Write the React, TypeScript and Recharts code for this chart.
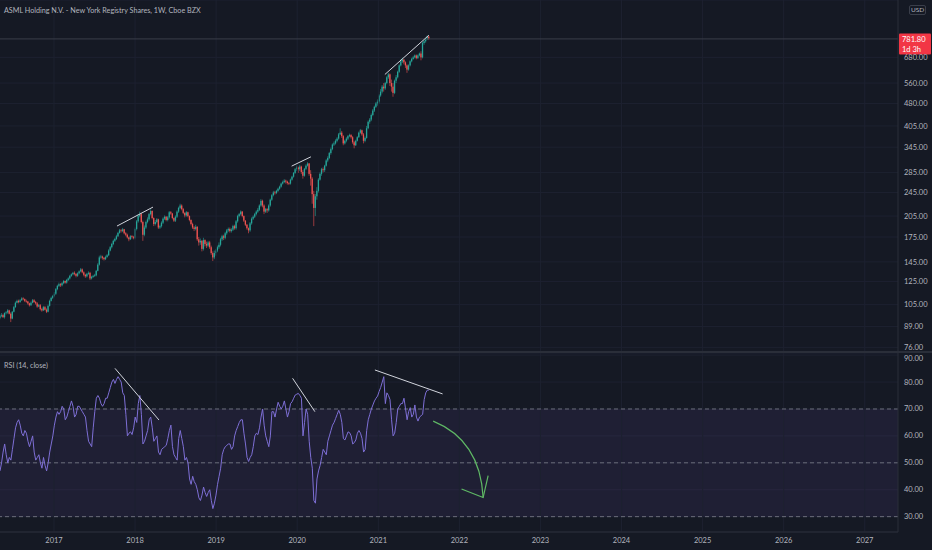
import React from 'react';
import {
  ComposedChart,
  Bar,
  Line,
  XAxis,
  YAxis,
  CartesianGrid,
  ReferenceLine,
  ReferenceArea,
} from 'recharts';

// weekly candles, first week starts early May 2016
const WEEK_START = 2016.334;
const WEEK_LEN = 7 / 365.25;

const OPENS = [
  // 2016
  95.0, 96.5, 97.0, 95.5, 98.5, 99.0, 100.5, 98.0, 94.5, 99.5, 103.0, 106.5, 108.0, 107.0, 108.5, 110.0, 109.5, 108.0,
  107.5, 106.0, 104.5, 106.5, 108.5, 107.0, 106.0, 103.5, 104.5, 101.5, 100.5, 103.0, 101.0, 99.5, 104.0, 108.0, 110.5,
  // 2017
  112.0, 114.0, 118.0, 121.0, 122.5, 121.5, 123.5, 125.5, 124.0, 126.5, 128.0, 130.5, 132.0, 133.5, 132.5, 130.5, 133.0,
  135.0, 137.0, 134.0, 131.5, 130.0, 132.5, 133.5, 128.0, 129.5, 130.5, 131.0, 135.5, 142.0, 150.0, 151.0, 149.5, 148.0,
  150.5, 152.5, 158.0, 162.0, 166.0, 170.0, 172.5, 176.0, 180.5, 184.0, 183.0, 185.5, 180.0, 178.0, 174.5, 172.0, 176.0, 175.0,
  // 2018
  174, 186, 197, 205, 208, 196, 178, 188, 196, 200, 208, 213, 202, 193, 196, 200, 188, 190, 195, 201, 204, 199, 203, 211,
  209, 202, 198, 204, 212, 218, 222, 216, 210, 206, 211, 205, 199, 193, 188, 186, 189, 172, 168, 170, 160, 171, 166, 164,
  168, 162, 155, 150,
  // 2019
  155, 158, 162, 165, 172, 176, 174, 180, 184, 186, 183, 185, 190, 187, 197, 205, 208, 212, 205, 198, 192, 187, 184, 194,
  201, 204, 208, 212, 215, 222, 230, 222, 212, 216, 214, 222, 232, 240, 245, 244, 248, 252, 256, 262, 265, 268, 266, 263,
  262, 270, 276, 284,
  // 2020
  292, 296, 292, 298, 286, 278, 293, 300, 305, 282, 272, 242, 218, 238, 248, 270, 282, 292, 290, 300, 312, 318, 330, 340,
  352, 355, 362, 368, 380, 385, 375, 355, 362, 368, 375, 378, 372, 358, 350, 362, 372, 385, 392, 380, 362, 370, 398, 418,
  425, 440, 455, 468,
  // 2021
  480, 487, 510, 525, 545, 538, 560, 585, 598, 560, 545, 520, 570, 585, 610, 640, 660, 668, 655, 640, 620, 640, 660, 672,
  680, 690, 676, 690, 700, 680, 758, 768, 780, 795,
];

const HIGHS = [
  97.5, 98.5, 98.0, 99.0, 100.0, 101.5, 101.0, 99.0, 100.0, 104.0, 107.5, 109.0, 109.0, 109.5, 111.0, 111.0, 110.0, 109.0,
  108.0, 106.5, 107.5, 109.5, 109.5, 108.0, 107.0, 105.5, 105.5, 102.5, 104.0, 104.0, 102.0, 105.0, 109.0, 111.5, 113.0,
  115.5, 119.0, 122.0, 124.0, 123.5, 124.5, 126.5, 126.0, 127.5, 129.0, 131.5, 133.0, 134.5, 135.0, 133.0, 134.0, 136.0,
  138.5, 138.0, 135.0, 132.5, 133.5, 135.0, 134.5, 130.5, 131.5, 132.5, 136.5, 143.5, 152.0, 153.0, 152.0, 150.5, 152.0,
  154.0, 159.5, 163.5, 167.5, 171.5, 174.0, 178.0, 182.0, 186.0, 186.0, 187.5, 186.0, 181.5, 179.5, 175.5, 177.5, 177.5, 176.5,
  188, 199, 208, 212, 210, 198, 191, 198, 203, 210, 216, 214, 203, 199, 202, 201, 192, 197, 203, 206, 205, 205, 213, 213,
  210, 203, 206, 214, 220, 225, 224, 218, 211, 213, 212, 206, 200, 195, 190, 192, 190, 175, 173, 171, 174, 172, 169, 170,
  170, 164, 157, 158,
  160, 164, 168, 174, 178, 178, 182, 186, 188, 188, 187, 192, 192, 199, 207, 210, 214, 213, 206, 199, 193, 188, 196, 203,
  206, 210, 214, 218, 224, 233, 232, 224, 218, 218, 224, 234, 242, 248, 248, 250, 254, 258, 264, 268, 271, 270, 268, 265,
  272, 278, 286, 295,
  300, 298, 302, 300, 290, 295, 303, 308, 306, 290, 275, 248, 242, 255, 273, 285, 295, 296, 302, 315, 322, 333, 344, 355,
  360, 366, 372, 384, 398, 390, 378, 365, 372, 378, 382, 381, 375, 362, 365, 375, 388, 396, 394, 384, 374, 405, 422, 430,
  445, 460, 472, 485,
  495, 515, 535, 552, 560, 565, 590, 605, 602, 575, 560, 575, 595, 615, 645, 670, 678, 672, 660, 645, 645, 665, 678, 688,
  695, 695, 695, 705, 712, 765, 775, 788, 802, 800,
];

const LOWS = [
  94.0, 95.5, 95.0, 94.5, 97.5, 98.0, 97.5, 92.0, 94.0, 99.0, 102.5, 106.0, 106.0, 106.5, 108.0, 108.5, 107.0, 106.5,
  105.0, 103.5, 104.0, 106.0, 106.5, 105.0, 102.5, 103.0, 100.5, 99.5, 100.0, 100.5, 98.5, 99.0, 103.5, 107.5, 109.5,
  111.0, 113.0, 117.0, 120.0, 120.0, 120.5, 122.5, 123.0, 123.0, 125.5, 127.0, 129.5, 131.0, 131.0, 129.0, 129.5, 132.0,
  134.0, 133.0, 130.0, 128.5, 129.0, 131.5, 126.5, 127.0, 128.5, 129.5, 130.0, 135.0, 141.0, 148.5, 147.5, 146.5, 147.0,
  149.5, 151.5, 157.0, 160.5, 164.5, 168.5, 171.0, 175.0, 179.5, 181.0, 181.5, 178.5, 176.0, 173.0, 169.5, 171.0, 173.0, 172.0,
  172, 184, 195, 203, 194, 170, 176, 186, 194, 198, 206, 200, 190, 191, 194, 186, 186, 188, 193, 199, 197, 197, 201, 207,
  200, 196, 196, 202, 210, 216, 214, 208, 203, 204, 203, 197, 191, 186, 183, 184, 170, 164, 165, 157, 158, 163, 161, 162,
  160, 153, 146, 148,
  152, 156, 160, 163, 170, 171, 172, 178, 182, 181, 181, 183, 185, 185, 195, 203, 206, 203, 196, 190, 185, 180, 182, 192,
  199, 202, 206, 210, 213, 220, 219, 208, 210, 210, 212, 220, 230, 238, 241, 242, 246, 250, 254, 260, 263, 262, 260, 259,
  260, 268, 274, 282,
  288, 284, 288, 282, 272, 276, 290, 298, 278, 258, 225, 190, 205, 232, 245, 268, 278, 285, 286, 298, 308, 315, 326, 337,
  348, 352, 358, 365, 378, 370, 350, 352, 358, 364, 372, 368, 354, 342, 348, 360, 370, 382, 376, 355, 358, 368, 395, 412,
  420, 436, 450, 464,
  472, 480, 505, 518, 525, 532, 555, 578, 548, 525, 505, 515, 560, 580, 605, 635, 652, 645, 628, 605, 615, 635, 655, 668,
  675, 670, 672, 685, 665, 675, 748, 760, 775, 775,
];

const CLOSES = [
  96.5, 97.0, 95.5, 98.5, 99.0, 100.5, 98.0, 94.5, 99.5, 103.0, 106.5, 108.0, 107.0, 108.5, 110.0, 109.5, 108.0, 107.5,
  106.0, 104.5, 106.5, 108.5, 107.0, 106.0, 103.5, 104.5, 101.5, 100.5, 103.0, 101.0, 99.5, 104.0, 108.0, 110.5, 112.0,
  114.0, 118.0, 121.0, 122.5, 121.5, 123.5, 125.5, 124.0, 126.5, 128.0, 130.5, 132.0, 133.5, 132.5, 130.5, 133.0, 135.0,
  137.0, 134.0, 131.5, 130.0, 132.5, 133.5, 128.0, 129.5, 130.5, 131.0, 135.5, 142.0, 150.0, 151.0, 149.5, 148.0, 150.5,
  152.5, 158.0, 162.0, 166.0, 170.0, 172.5, 176.0, 180.5, 184.0, 183.0, 185.5, 180.0, 178.0, 174.5, 172.0, 176.0, 175.0, 174.0,
  186, 197, 205, 208, 196, 178, 188, 196, 200, 208, 213, 202, 193, 196, 200, 188, 190, 195, 201, 204, 199, 203, 211, 209,
  202, 198, 204, 212, 218, 222, 216, 210, 206, 211, 205, 199, 193, 188, 186, 189, 172, 168, 170, 160, 171, 166, 164, 168,
  162, 155, 150, 155,
  158, 162, 165, 172, 176, 174, 180, 184, 186, 183, 185, 190, 187, 197, 205, 208, 212, 205, 198, 192, 187, 184, 194, 201,
  204, 208, 212, 215, 222, 230, 222, 212, 216, 214, 222, 232, 240, 245, 244, 248, 252, 256, 262, 265, 268, 266, 263, 262,
  270, 276, 284, 292,
  296, 292, 298, 286, 278, 293, 300, 305, 282, 272, 242, 218, 238, 248, 270, 282, 292, 290, 300, 312, 318, 330, 340, 352,
  355, 362, 368, 380, 385, 375, 355, 362, 368, 375, 378, 372, 358, 350, 362, 372, 385, 392, 380, 362, 370, 398, 418, 425,
  440, 455, 468, 480,
  487, 510, 525, 545, 538, 560, 585, 598, 560, 545, 520, 570, 585, 610, 640, 660, 668, 655, 640, 620, 640, 660, 672, 680,
  690, 676, 690, 700, 680, 758, 768, 780, 795, 781.8,
];

const RSI = [
  47, 50, 54, 57, 53, 50, 52, 51, 55, 59,
  63, 65, 66, 64, 61, 60, 62, 61, 58, 56,
  58, 60, 54, 51, 52, 53, 50, 48, 52, 49,
  47, 50, 54, 57, 60, 64, 67, 69, 68, 69,
  71, 70, 66, 67, 69, 71, 73, 71, 67, 68,
  71, 71, 70, 69, 68, 67, 62, 58, 57, 56,
  63, 69, 74, 75, 74, 72, 71, 72, 74, 74,
  76, 78, 80, 81, 79.5, 81, 82, 81, 80, 76,
  75, 68, 60, 61, 61.5, 60.5, 63, 67, 65, 72,
  75, 68, 57, 58, 60, 62, 66, 67, 63, 58,
  59, 60, 54, 53, 55, 55.5, 56, 56.5, 59, 62,
  64, 56, 53, 52, 51, 59, 62, 59, 56, 51,
  52, 50, 44, 42, 45, 43, 42, 40, 37, 36,
  38, 41, 39, 37.5, 39, 40, 36, 33, 35, 38,
  42, 45, 48, 53, 55, 56, 56.5, 57, 57, 55,
  56, 60, 62, 63.5, 65, 66, 66, 61, 57, 52,
  50.5, 52, 53, 56, 60, 61, 60.5, 63, 67, 70,
  64, 60, 58, 56, 60, 69, 69, 67, 70, 72.5,
  71, 70, 71, 73, 70, 67, 69, 72, 72.7, 74,
  75.2, 75.5, 75.8, 75, 74, 60, 65, 70, 68, 58,
  52, 48, 36, 35, 44, 47, 49, 52, 55, 54,
  53, 58, 60, 62, 64, 65, 66.5, 68, 69.5, 68,
  65, 59, 58.5, 60, 61.5, 61.2, 60, 57, 57.5, 58.5,
  61, 62, 61, 59, 54, 55, 62, 66, 68, 70,
  71.5, 73, 74, 74.8, 76.5, 78, 80, 82, 72, 76,
  75, 73.5, 66, 60, 61, 65, 70, 71, 72, 72,
  74, 70, 66, 69, 70.5, 67, 68, 71.5, 67, 65.5,
  67, 67.5, 68, 73.5, 76, 77, 77,
];

const YEARS = [2017, 2018, 2019, 2020, 2021, 2022, 2023, 2024, 2025, 2026, 2027];
const PRICE_TICKS = [76, 89, 105, 125, 145, 175, 205, 245, 285, 345, 405, 480, 560, 680];
const RSI_TICKS = [30, 40, 50, 60, 70, 80, 90];
const LAST_PRICE = 781.8;

// drawn trend lines: [[year, value], [year, value]]
const PRICE_TRENDS = [
  [[2017.777, 190.1], [2018.221, 219.4]],
  [[2019.931, 299], [2020.169, 320.8]],
  [[2021.081, 597.5], [2021.624, 804]],
];
const RSI_TRENDS = [
  [[2017.752, 85.1], [2018.295, 65.9]],
  [[2019.943, 81.4], [2020.218, 69]],
  [[2020.958, 84.5], [2021.793, 75.6]],
];
const ARROW = [[2021.677, 65.5], [2022.293, 37.1]];

const X_DOMAIN = [2016.334, 2027.41];
const BG = '#151924';
const GRID = '#1d2130';
const TEXT = '#b2b5be';
const UP = '#26a69a';
const DOWN = '#ef5350';

const candles = CLOSES.map((close, i) => ({
  t: WEEK_START + i * WEEK_LEN,
  open: OPENS[i],
  high: HIGHS[i],
  low: LOWS[i],
  close,
  range: [LOWS[i], HIGHS[i]],
}));

const rsiData = RSI.map((rsi, i) => ({ t: WEEK_START + i * WEEK_LEN, rsi }));

const Candle = (props: any) => {
  const { x, y, width, height, payload } = props;
  if (!payload || height == null || isNaN(y)) return null;
  const top = Math.min(y, y + height);
  const h = Math.abs(height);
  const { open, close, high, low } = payload;
  const lh = Math.log(high);
  const ll = Math.log(low);
  const py = (v: number) => top + (h * (lh - Math.log(v))) / (lh - ll || 1);
  const cx = x + width / 2;
  const color = close >= open ? UP : DOWN;
  const bTop = py(Math.max(open, close));
  const bBot = py(Math.min(open, close));
  return (
    <g>
      <line x1={cx} x2={cx} y1={top} y2={top + h} stroke={color} strokeWidth={0.6} />
      <rect x={cx - 0.65} y={bTop} width={1.3} height={Math.max(bBot - bTop, 0.7)} fill={color} />
    </g>
  );
};

const PriceTag = (props: any) => {
  const vb = props.viewBox;
  if (!vb) return null;
  const x = vb.x + vb.width + 1;
  return (
    <g>
      <rect x={x} y={vb.y - 5.5} width={32} height={21} fill="#f23645" rx={1} />
      <text x={x + 3} y={vb.y + 1.5} fontSize={7.5} fill="#ffffff" dominantBaseline="middle">
        {LAST_PRICE.toFixed(2)}
      </text>
      <text x={x + 3} y={vb.y + 11} fontSize={7.5} fill="#ffffff" dominantBaseline="middle">
        1d 3h
      </text>
    </g>
  );
};

// keeps the top RSI label inside the pane
const RsiTick = (props: any) => {
  const { x, y, payload } = props;
  return (
    <text x={x} y={Math.max(y, 5)} fill={TEXT} fontSize={7.5} textAnchor="start" dominantBaseline="central">
      {Number(payload.value).toFixed(2)}
    </text>
  );
};

const CurvedArrow = (props: any) => {
  const { x1, y1, x2, y2 } = props;
  if (x1 == null) return null;
  const qx = x1 + 0.94 * (x2 - x1);
  const qy = y1 + 0.25 * (y2 - y1);
  return (
    <g stroke="#5fb865" strokeWidth={1.2} fill="none">
      <path d={`M${x1},${y1} Q${qx},${qy} ${x2},${y2}`} />
      <path d={`M${x2 - 21.6},${y2 - 8.6} L${x2},${y2} L${x2 + 5},${y2 - 22}`} />
    </g>
  );
};

const tickStyle = { fill: TEXT, fontSize: 7.5 };

export default function App() {
  return (
    <div
      style={{
        position: 'relative',
        width: 932,
        height: 550,
        background: BG,
        fontFamily: 'Lato, "Open Sans", sans-serif',
        overflow: 'hidden',
      }}
    >
      <style>{`body{margin:0;background:${BG};}`}</style>

      <ComposedChart width={932} height={352} data={candles} margin={{ top: 0, right: 0, bottom: 0, left: 0 }}>
        <CartesianGrid vertical={false} stroke={GRID} />
        {YEARS.map((yr) => (
          <ReferenceLine key={yr} x={yr} stroke={GRID} />
        ))}
        <XAxis type="number" dataKey="t" domain={X_DOMAIN} allowDataOverflow hide />
        <YAxis
          orientation="right"
          width={34}
          scale="log"
          domain={[73.4, 1049]}
          allowDataOverflow
          ticks={PRICE_TICKS}
          interval={0}
          tickFormatter={(v: number) => v.toFixed(2)}
          tick={tickStyle}
          tickLine={false}
          tickSize={4}
          axisLine={{ stroke: '#2a2e39' }}
        />
        <ReferenceLine y={LAST_PRICE} stroke="#3a3e4a" label={<PriceTag />} />
        <Bar dataKey="range" shape={<Candle />} isAnimationActive={false} />
        {PRICE_TRENDS.map((seg, i) => (
          <ReferenceLine
            key={`pt${i}`}
            segment={seg.map(([x, y]) => ({ x, y }))}
            stroke="#d1d4dc"
            strokeWidth={1}
          />
        ))}
      </ComposedChart>

      <div style={{ position: 'absolute', left: 0, top: 351, width: 932, height: 2, background: '#2a2e39' }} />

      <div style={{ position: 'absolute', left: 0, top: 353 }}>
        <ComposedChart width={932} height={197} data={rsiData} margin={{ top: 0, right: 0, bottom: 0, left: 0 }}>
          <ReferenceArea y1={30} y2={70} fill="#7e57c2" fillOpacity={0.1} stroke="none" />
          <CartesianGrid vertical={false} stroke={GRID} />
          {YEARS.map((yr) => (
            <ReferenceLine key={yr} x={yr} stroke={GRID} />
          ))}
          {[70, 50, 30].map((v) => (
            <ReferenceLine key={v} y={v} stroke="#6b6e7b" strokeDasharray="4 3" />
          ))}
          <XAxis
            type="number"
            dataKey="t"
            domain={X_DOMAIN}
            allowDataOverflow
            ticks={YEARS}
            interval={0}
            height={18}
            tick={tickStyle}
            tickLine={false}
            tickSize={4}
            axisLine={{ stroke: '#2a2e39' }}
          />
          <YAxis
            orientation="right"
            width={34}
            domain={[24.3, 90.8]}
            allowDataOverflow
            ticks={RSI_TICKS}
            interval={0}
            tick={<RsiTick />}
            tickLine={false}
            tickSize={4}
            axisLine={{ stroke: '#2a2e39' }}
          />
          <Line
            type="linear"
            dataKey="rsi"
            stroke="#7e6fd6"
            strokeWidth={1}
            dot={false}
            isAnimationActive={false}
          />
          {RSI_TRENDS.map((seg, i) => (
            <ReferenceLine
              key={`rt${i}`}
              segment={seg.map(([x, y]) => ({ x, y }))}
              stroke="#d1d4dc"
              strokeWidth={1}
            />
          ))}
          <ReferenceLine segment={ARROW.map(([x, y]) => ({ x, y }))} shape={CurvedArrow} />
        </ComposedChart>
      </div>

      <div style={{ position: 'absolute', left: 4, top: 6, fontSize: 7.2, color: TEXT, whiteSpace: 'nowrap' }}>
        ASML Holding N.V. - New York Registry Shares, 1W, Cboe BZX
      </div>
      <div style={{ position: 'absolute', left: 4, top: 361, fontSize: 7.2, color: TEXT, whiteSpace: 'nowrap' }}>
        RSI (14, close)
      </div>
      <div
        style={{
          position: 'absolute',
          left: 909,
          top: 5,
          fontSize: 6.5,
          color: TEXT,
          border: '1px solid #3a3e4a',
          borderRadius: 2,
          padding: '0 1px',
          lineHeight: '8px',
        }}
      >
        USD
      </div>
    </div>
  );
}
